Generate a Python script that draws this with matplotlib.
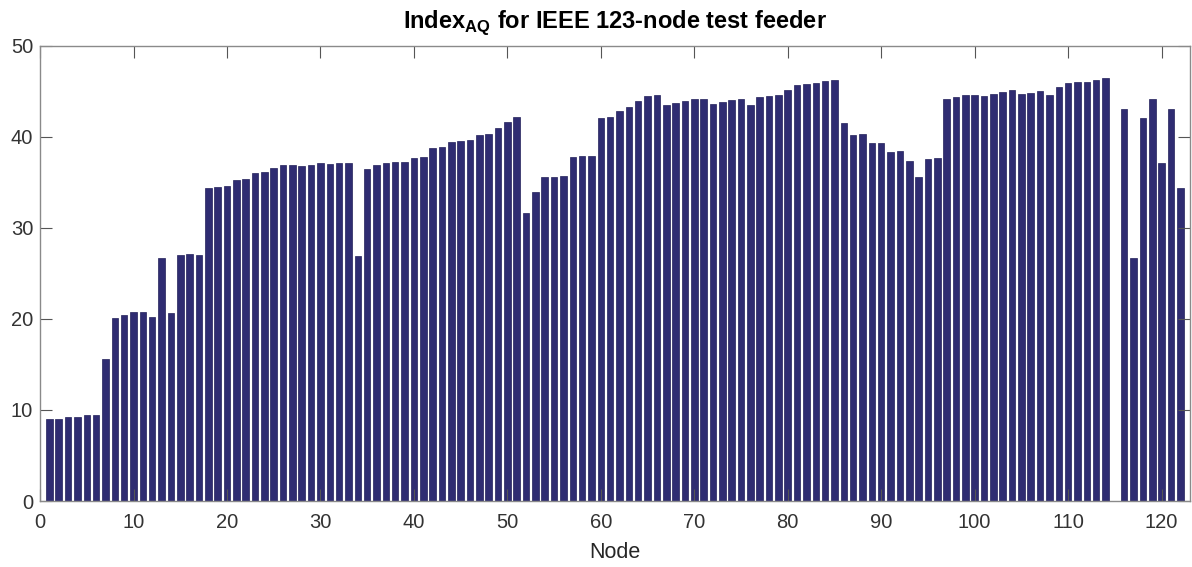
import numpy as np
import matplotlib
matplotlib.use("Agg")
import matplotlib.pyplot as plt

plt.rcParams['font.family'] = ['Liberation Sans', 'DejaVu Sans']

# Index_AQ per node (node 115 has no value)
nodes = np.arange(1, 123)
index_aq = [
    9.0, 9.05, 9.2, 9.25, 9.4, 9.5, 15.55, 20.1, 20.4, 20.8,
    20.8, 20.2, 26.7, 20.7, 27.0, 27.1, 27.0, 34.4, 34.5, 34.6,
    35.3, 35.4, 36.0, 36.2, 36.6, 36.9, 36.95, 36.8, 36.95, 37.1,
    37.0, 37.1, 37.1, 26.9, 36.5, 36.95, 37.1, 37.2, 37.25, 37.7,
    37.8, 38.75, 38.9, 39.5, 39.6, 39.7, 40.25, 40.3, 41.0, 41.6,
    42.2, 31.65, 34.0, 35.55, 35.65, 35.7, 37.75, 37.9, 37.95, 42.1,
    42.25, 42.9, 43.3, 43.9, 44.45, 44.6, 43.5, 43.75, 43.95, 44.2,
    44.2, 43.6, 43.85, 44.1, 44.2, 43.55, 44.35, 44.55, 44.6, 45.2,
    45.7, 45.8, 45.9, 46.15, 46.3, 41.5, 40.25, 40.3, 39.3, 39.35,
    38.4, 38.45, 37.4, 35.55, 37.55, 37.65, 44.15, 44.4, 44.6, 44.65,
    44.5, 44.7, 44.9, 45.15, 44.7, 44.8, 45.0, 44.65, 45.5, 45.95,
    46.05, 46.05, 46.3, 46.45, 0.0, 43.1, 26.7, 42.05, 44.15, 37.15,
    43.1, 34.4,
]
x_ticks = np.arange(0, 121, 10)
y_ticks = np.arange(0, 51, 10)

fig = plt.figure(figsize=(11.92, 5.67), dpi=100)
ax = fig.add_axes([0.0336, 0.1164, 0.9644, 0.8025])

ax.bar(nodes, index_aq, width=0.7, color='#2F2C72', edgecolor='#23205a', linewidth=0.5)

ax.set_xlim(0, 123)
ax.set_ylim(0, 50)
ax.set_xticks(x_ticks)
ax.set_yticks(y_ticks)
ax.tick_params(direction='in', length=8.5, width=0.8, color='#555555',
               top=True, right=True, labelsize=14.5, labelcolor='#333333')
ax.tick_params(axis='x', pad=8.5)
ax.tick_params(axis='y', pad=5)
for s in ax.spines.values():
    s.set_color('#8a8a8a')
    s.set_linewidth(1.0)

ax.set_xlabel('Node', fontsize=15.5, color='#262626', labelpad=7)
ax.set_title(r'Index$_\mathregular{AQ}$ for IEEE 123-node test feeder',
             fontsize=17, fontweight='bold', pad=13)

fig.savefig('out.png', dpi=100)
